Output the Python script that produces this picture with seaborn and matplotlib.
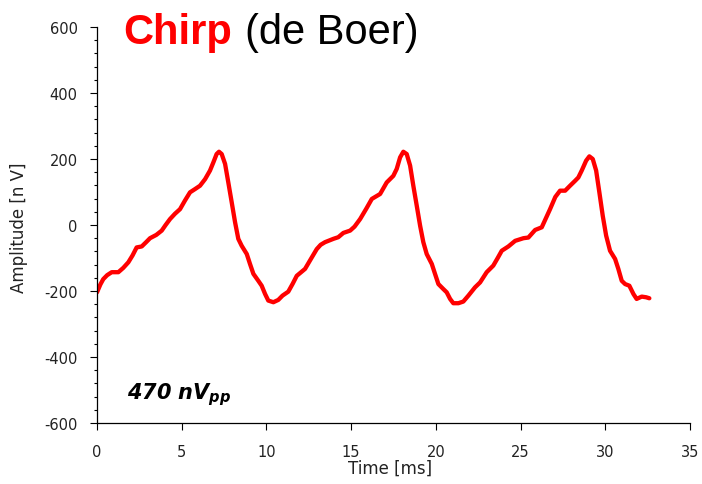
import numpy as np
import pandas as pd
import matplotlib
matplotlib.use("Agg")
import matplotlib.pyplot as plt
from matplotlib.ticker import MultipleLocator
import seaborn as sns

time_ms = [0.00, 0.20, 0.37, 0.60, 0.87, 1.26, 1.55, 1.85, 2.10, 2.34, 2.64, 2.90,
           3.13, 3.50, 3.82, 4.05, 4.31, 4.60, 4.90, 5.19, 5.49, 5.79, 6.08, 6.38,
           6.67, 6.87, 7.06, 7.20, 7.36, 7.56, 7.75, 7.95, 8.15, 8.34, 8.54, 8.84,
           9.03, 9.23, 9.52, 9.72, 9.92, 10.11, 10.41, 10.70, 10.95, 11.29, 11.55,
           11.79, 12.28, 12.60, 12.97, 13.20, 13.46, 13.95, 14.24, 14.54, 14.94,
           15.20, 15.53, 15.90, 16.22, 16.71, 17.10, 17.49, 17.69, 17.89, 18.08,
           18.28, 18.48, 18.67, 18.87, 19.07, 19.26, 19.46, 19.76, 19.95, 20.15,
           20.44, 20.64, 20.84, 21.03, 21.33, 21.62, 21.92, 22.31, 22.61, 23.00,
           23.39, 23.65, 23.89, 24.28, 24.68, 25.17, 25.46, 25.86, 26.25, 26.74,
           27.05, 27.33, 27.63, 27.92, 28.22, 28.41, 28.61, 28.87, 29.06, 29.26,
           29.46, 29.65, 29.85, 30.05, 30.28, 30.58, 30.77, 30.97, 31.17, 31.42,
           31.66, 31.85, 32.15, 32.41, 32.60]
amplitude_nv = [-204, -180, -164, -152, -143, -143, -130, -113, -92, -68, -65, -52,
                -40, -30, -17, 0, 18, 34, 48, 74, 99, 109, 119, 139,
                165, 190, 215, 222, 215, 185, 129, 69, 8, -42, -63, -88,
                -118, -148, -169, -184, -209, -229, -234, -227, -214, -202, -178,
                -154, -133, -105, -73, -60, -52, -42, -37, -24, -17,
                -5, 18, 50, 79, 94, 129, 149, 170, 205, 222,
                215, 180, 119, 59, -2, -52, -88, -118, -148, -179,
                -194, -204, -224, -237, -237, -232, -214, -189, -174, -143,
                -123, -100, -78, -65, -48, -40, -38, -15, -7, 48,
                85, 104, 104, 119, 134, 144, 165, 195, 208, 200,
                165, 99, 28, -32, -78, -103, -133, -169, -179, -184,
                -209, -224, -217, -219, -222]

x_ticks = [0, 5, 10, 15, 20, 25, 30, 35]
y_ticks = [-600, -400, -200, 0, 200, 400, 600]

sns.set_style("ticks")
plt.rcParams['font.family'] = ['DejaVu Sans']
plt.rcParams['axes.unicode_minus'] = False
plt.rcParams['mathtext.fontset'] = 'custom'
plt.rcParams['mathtext.rm'] = 'DejaVu Sans:bold:italic'
plt.rcParams['mathtext.it'] = 'DejaVu Sans:bold:italic'

df = pd.DataFrame({"Time": time_ms, "Amplitude": amplitude_nv})

fig = plt.figure(figsize=(7.02, 4.85), dpi=100)
ax = fig.add_axes([97/702, 1-424/485, 593/702, 396/485])
sns.lineplot(data=df, x="Time", y="Amplitude", ax=ax, color="#ff0000",
             linewidth=3.1, solid_joinstyle="round", solid_capstyle="round")

ax.set_xlim(0, 35)
ax.set_ylim(-600, 600)
ax.set_xticks(x_ticks)
ax.set_yticks(y_ticks)
ax.yaxis.set_minor_locator(MultipleLocator(40))
ax.tick_params(axis='both', which='major', direction='out', length=5, width=0.8,
               color='black', labelsize=10.5, labelcolor='#222222')
ax.tick_params(axis='y', which='major', pad=9)
ax.tick_params(axis='x', which='major', pad=10)
ax.tick_params(axis='y', which='minor', direction='out', length=2.5, width=0.8, color='black')
for s in ['top', 'right']:
    ax.spines[s].set_visible(False)
for s in ['left', 'bottom']:
    ax.spines[s].set_color('black')
    ax.spines[s].set_linewidth(0.9)

ax.set_xlabel("Time [ms]", fontsize=12, color='#222222')
ax.xaxis.set_label_coords((390 - 97) / 593, (424 - 460) / 396)
ax.set_ylabel("Amplitude [n V]", fontsize=12, color='#222222')
ax.yaxis.set_label_coords((28 - 97) / 593, 0.495)

fig.text(123/702, 1-44/485, "Chirp", fontsize=30, fontweight='bold', color='#ff0000',
         family='Liberation Sans', ha='left', va='baseline')
fig.text(245/702, 1-44/485, "(de Boer)", fontsize=30, color='black',
         family='Liberation Sans', ha='left', va='baseline')
ax.text(1.75, -524, r"$470\ nV_{pp}$", fontsize=15, color='black', ha='left', va='baseline')

fig.savefig("out.png", dpi=100)
